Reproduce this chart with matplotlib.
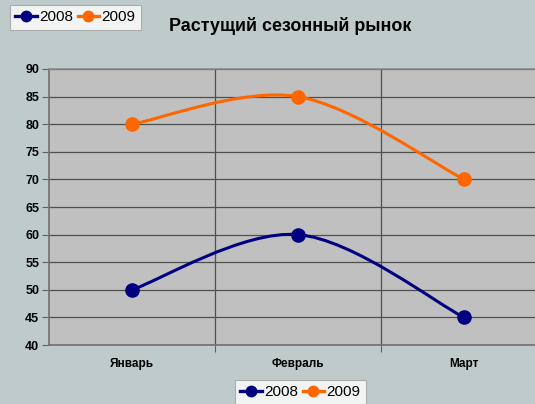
import matplotlib.pyplot as plt
from matplotlib.path import Path
from matplotlib.patches import PathPatch
from matplotlib.lines import Line2D

months = ['Январь', 'Февраль', 'Март']
y2008 = [50, 60, 45]
y2009 = [80, 85, 70]
series = [('2008', y2008, '#000080'), ('2009', y2009, '#FF6600')]

bg = '#BFCACB'
plt.rcParams['font.family'] = ['Liberation Sans', 'DejaVu Sans']
narrow = ['Liberation Sans Narrow', 'Liberation Sans', 'DejaVu Sans']

fig = plt.figure(figsize=(5.35, 4.04), dpi=100, facecolor=bg)
ax = fig.add_axes([49/535, 59/404, 498/535, 276/404])
ax.set_facecolor('#C0C0C0')

x = list(range(len(months)))


def smooth_path(xs, ys):
    # Catmull-Rom style curve (like Excel's smoothed line) through the points
    pts = list(zip(xs, ys))
    verts = [pts[0]]
    codes = [Path.MOVETO]
    for i in range(len(pts) - 1):
        p0 = pts[i - 1] if i > 0 else pts[i]
        p1 = pts[i]
        p2 = pts[i + 1]
        p3 = pts[i + 2] if i + 2 < len(pts) else pts[i + 1]
        c1 = (p1[0] + (p2[0] - p0[0]) / 6, p1[1] + (p2[1] - p0[1]) / 6)
        c2 = (p2[0] - (p3[0] - p1[0]) / 6, p2[1] - (p3[1] - p1[1]) / 6)
        verts += [c1, c2, p2]
        codes += [Path.CURVE4] * 3
    return Path(verts, codes)


for name, vals, col in series:
    ax.add_patch(PathPatch(smooth_path(x, vals), fill=False, edgecolor=col,
                           lw=2.2, zorder=3))
    ax.plot(x, vals, 'o', color=col, ms=9.5, zorder=4)

ax.set_xlim(-0.5, 2.5)
ax.set_ylim(40, 90)
ax.set_yticks(range(40, 91, 5))
ax.set_xticks([0.5, 1.5])
ax.set_xticks(x, minor=True)
ax.set_xticklabels([])
ax.set_xticklabels(months, minor=True, fontsize=8.5, fontweight='bold',
                   family=narrow)
ax.tick_params(axis='x', which='minor', length=0, pad=9)
ax.tick_params(axis='x', which='major', length=5, color='#606060')
ax.tick_params(axis='y', length=5, color='#606060', labelsize=9, pad=2)
for lab in ax.get_yticklabels():
    lab.set_fontweight('bold')
    lab.set_family(narrow)
ax.grid(True, which='major', color='#505050', lw=0.9)
ax.set_axisbelow(True)
for s in ['top', 'right']:
    ax.spines[s].set_color('#8A8A8A')
for s in ['left', 'bottom']:
    ax.spines[s].set_color('#707070')
for s in ax.spines.values():
    s.set_linewidth(1.2)

fig.text(0.542, 0.935, 'Растущий сезонный рынок', ha='center', va='center',
         fontsize=12.9, fontweight='bold')

handles = [Line2D([], [], color=c, lw=2.4, marker='o', ms=7.5) for _, _, c in series]
labels = [n for n, _, _ in series]
for anchor in [(10/535, 1 - 5/404), (235/535, 1 - 380/404)]:
    leg = fig.legend(handles, labels, loc='upper left', bbox_to_anchor=anchor,
                     ncol=2, frameon=True, fancybox=False,
                     prop={'family': narrow, 'size': 11},
                     handlelength=1.4, handletextpad=0.15, columnspacing=0.3,
                     borderpad=0.35, borderaxespad=0)
    leg.get_frame().set_edgecolor('#A0A0A0')
    leg.get_frame().set_linewidth(0.8)

fig.savefig('out.png', dpi=100, facecolor=bg)
